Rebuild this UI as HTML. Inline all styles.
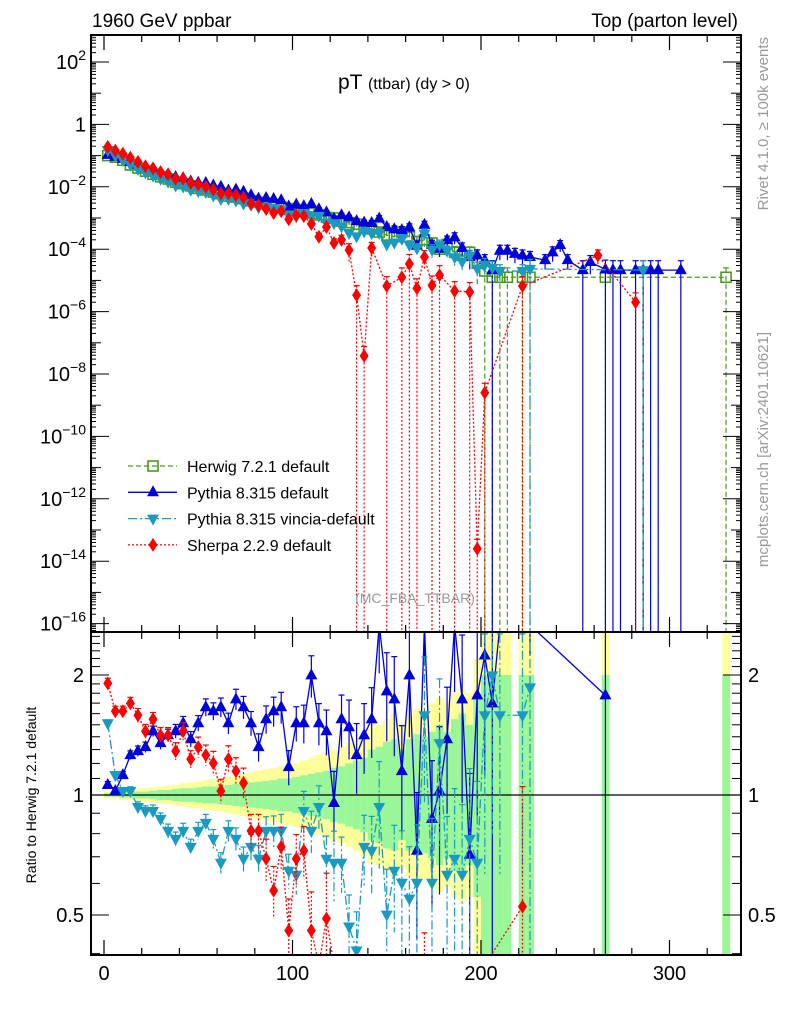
<!DOCTYPE html>
<html><head><meta charset="utf-8"><style>
html,body{margin:0;padding:0;width:786px;height:1024px;overflow:hidden;background:#fff}
svg{display:block;font-family:"Liberation Sans",sans-serif}
</style></head><body>
<svg id="c" width="786" height="1024" viewBox="0 0 786 1024">
<defs>
<clipPath id="cm"><rect x="91" y="35" width="650" height="597"/></clipPath>
<clipPath id="cr"><rect x="91" y="632" width="650" height="323"/></clipPath>
</defs>
<rect x="0" y="0" width="786" height="1024" fill="#fff"/>
<g id="band" clip-path="url(#cr)"></g>
<g id="main" clip-path="url(#cm)"></g>
<g id="ratio" clip-path="url(#cr)"></g>
<g id="axes"></g>
<text x="92" y="27" font-size="19">1960 GeV ppbar</text>
<text x="738" y="27" font-size="19" text-anchor="end">Top (parton level)</text>
<text x="338" y="89" font-size="21">pT <tspan font-size="16">(ttbar) (dy &gt; 0)</tspan></text>
<text x="415" y="603" font-size="14" fill="#999" text-anchor="middle">(MC_FBA_TTBAR)</text>
<text transform="rotate(-90,768,37)" x="768" y="37" font-size="15" fill="#999" text-anchor="end">Rivet 4.1.0, ≥ 100k events</text>
<text transform="rotate(-90,768,332)" x="768" y="332" font-size="15" fill="#999" text-anchor="end">mcplots.cern.ch [arXiv:2401.10621]</text>
<text transform="rotate(-90,36,795)" x="36" y="795" font-size="14" text-anchor="middle">Ratio to Herwig 7.2.1 default</text>
<g id="legend"></g>
</svg>
<script>
const binCenters=[2,6,10,14,18,22,26,30,34,38,42,46,50,54,58,62,66,70,74,78,82,86,90,94,98,102,106,110,114,118,122,126,130,134,138,142,146,150,154,158,162,166,170,174,178,182,186,190,194,198,202,206,210,214,218,222,226,230,234,238,242,246,250,254,258,262,266,270,274,278,282,286,290,294,298,302,306,310,314,318,322,326,330,334];
const N=null;
const herwigLog=[-1.0,-1.05,-1.15,-1.3,-1.4,-1.5,-1.6,-1.68,-1.75,-1.85,-1.9,-1.97,-2.05,-2.1,-2.17,-2.22,-2.3,-2.33,-2.38,-2.45,-2.5,-2.55,-2.6,-2.65,-2.7,-2.75,-2.8,-2.85,-2.9,-2.98,-3.0,-3.1,-3.15,-3.2,-3.3,-3.35,-3.45,-3.55,-3.6,-3.45,-3.6,-3.75,-3.7,-3.8,-4.0,-3.85,-4.1,-4.2,-4.1,-4.45,-4.7,-4.9,-4.9,-4.9,N,-4.9,-4.9,N,N,N,N,N,N,N,N,N,-4.9,N,N,N,N,N,N,N,N,N,N,N,N,N,N,N,-4.9,N];
const pythiaLog=[-0.975,-1.04,-1.10,-1.20,-1.29,-1.38,-1.44,-1.55,-1.60,-1.69,-1.72,-1.83,-1.87,-1.88,-1.96,-2.00,-2.12,-2.09,-2.16,-2.27,-2.38,-2.36,-2.39,-2.43,-2.63,-2.57,-2.62,-2.55,-2.72,-2.82,-3.02,-2.91,-2.98,-3.10,-3.15,-3.16,-3.02,-3.29,-3.36,-3.39,-3.30,-3.89,-3.22,-3.86,-3.99,-3.71,-3.62,-3.96,-4.25,-4.20,-4.35,-4.67,-4.05,-4.05,-4.15,-4.2,-4.25,N,-4.35,-4.1,-3.87,-4.35,N,-4.67,-4.41,N,-4.65,-4.67,-4.67,N,-4.67,-4.67,-4.67,-4.67,N,N,-4.67,N,N,N,N,N,N,N];
const vinciaLog=[-0.82,-1.0,-1.14,-1.29,-1.43,-1.54,-1.64,-1.74,-1.84,-1.96,-1.99,-2.10,-2.14,-2.17,-2.28,-2.39,-2.39,-2.44,-2.54,-2.58,-2.66,-2.64,-2.69,-2.74,-2.89,-2.95,-2.84,-2.94,-2.93,-3.14,-3.17,-3.27,-3.48,-3.59,-3.43,-3.49,-3.48,-3.85,-3.79,-3.67,-3.86,-3.97,-3.5,-4.02,-3.87,-4.05,-4.26,-4.40,-4.21,-4.62,-4.5,-4.6,-4.7,N,N,-4.7,-4.63,N,N,N,N,N,N,N,N,N,N,N,N,N,N,-4.67,N,N,N,N,N,N,N,N,N,N,N,N];
const sherpaLog=[-0.72,-0.84,-0.94,-1.07,-1.20,-1.34,-1.41,-1.53,-1.60,-1.74,-1.74,-1.88,-1.93,-2.0,-2.09,-2.21,-2.21,-2.27,-2.35,-2.54,-2.59,-2.71,-2.84,-2.78,-3.04,-2.91,-2.94,-3.19,-3.6,-3.29,-3.8,-3.7,-4.03,-5.47,-7.42,-3.96,N,-5.18,N,-4.9,-4.47,-5.25,-4.25,-5.16,-4.83,N,-5.34,N,-5.37,-13.6,-8.6,N,N,N,N,-5.18,N,N,N,N,N,N,N,N,N,-4.2,N,N,N,N,-5.7,N,N,N,N,N,N,N,N,N,N,N,N,N];
const herwigStatErr=[.01,.01,.015,.015,.02,.02,.025,.03,.03,.035,.04,.04,.045,.05,.05,.055,.06,.065,.07,.075,.08,.085,.09,.1,.1,.11,.12,.13,.14,.15,.17,.18,.2,.22,.24,.3,.32,.36,.38,.3,.38,.42,.4,.44,.5,.44,.55,.6,.5,.8,1,1,1,1,0,1,1,0,0,0,0,0,0,0,0,0,1,0,0,0,0,0,0,0,0,0,0,0,0,0,0,0,1,0];
const herwigTotErr=[.02,.02,.03,.03,.035,.04,.045,.05,.055,.06,.07,.075,.08,.09,.095,.1,.11,.12,.13,.14,.15,.16,.17,.18,.19,.2,.22,.24,.26,.28,.3,.32,.35,.38,.42,.48,.5,.55,.6,.52,.6,.65,.62,.7,.75,.7,.8,.85,.8,1.2,2,2,2,2,0,2,2,0,0,0,0,0,0,0,0,0,2,0,0,0,0,0,0,0,0,0,0,0,0,0,0,0,2,0];
const pythiaErr=[.02,.02,.02,.025,.03,.03,.03,.035,.035,.04,.04,.045,.045,.05,.05,.055,.06,.06,.065,.07,.08,.08,.085,.09,.1,.1,.11,.12,.12,.13,.2,.15,.17,.2,.2,.2,.25,.25,.28,.3,.3,.4,.3,.4,.45,.35,.4,.45,.6,.5,.5,1,.5,.5,.5,.5,.5,0,.5,.5,.4,.5,0,1,.6,0,1,1,1,0,1,1,1,1,0,0,1,0,0,0,0,0,0,0];
const vinciaErr=[.02,.02,.02,.025,.03,.03,.035,.035,.04,.04,.045,.045,.05,.05,.055,.06,.06,.065,.07,.075,.08,.085,.09,.1,.1,.11,.12,.12,.13,.14,.2,.16,.2,.25,.2,.22,.3,.3,.3,.35,.35,.4,.4,.45,.45,.4,.5,.5,.5,.6,.6,.6,.6,0,0,.6,1,0,0,0,0,0,0,0,0,0,0,0,0,0,0,1,0,0,0,0,0,0,0,0,0,0,0,0];
const sherpaErr=[.03,.03,.03,.035,.04,.04,.04,.045,.045,.05,.05,.05,.06,.06,.07,.07,.08,.08,.09,.1,.1,.12,.15,.12,.2,.15,.15,.25,.3,.3,.35,.4,.6,1,1,.5,0,1,0,1,1,1,.6,1,1,0,1,0,1,1,1,0,0,0,0,1,0,0,0,0,0,0,0,0,0,.5,0,0,0,0,1,0,0,0,0,0,0,0,0,0,0,0,0,0];
const xTicks=[0,100,200,300];
const mainTickDecades=[2,0,-2,-4,-6,-8,-10,-12,-14,-16];
const ratioTicks=[0.5,1,2];
const legendLabels=["Herwig 7.2.1 default","Pythia 8.315 default","Pythia 8.315 vincia-default","Sherpa 2.2.9 default"];

const NS="http://www.w3.org/2000/svg";
const X=v=>104+v*1.885;
const YM=lg=>62+(2-lg)*31.2;
const YR=r=>795-120*Math.log2(r);
const BOT_M=640, BOT_R=965, TOP_R=625;
function mk(tag,attrs,parent){const e=document.createElementNS(NS,tag);for(const k in attrs)e.setAttribute(k,attrs[k]);parent.appendChild(e);return e;}
const gMain=document.getElementById('main'),gRatio=document.getElementById('ratio'),gBand=document.getElementById('band'),gAx=document.getElementById('axes'),gLeg=document.getElementById('legend');

const series=[
 {name:'herwig',vals:herwigLog,err:herwigStatErr,color:'#4a9a1a',dash:'5,3',marker:'square'},
 {name:'pythia',vals:pythiaLog,err:pythiaErr,color:'#0000dd',dash:'',marker:'up'},
 {name:'vincia',vals:vinciaLog,err:vinciaErr,color:'#1a9ac0',dash:'9,3,2,3',marker:'down'},
 {name:'sherpa',vals:sherpaLog,err:sherpaErr,color:'#ff0000',dash:'2,2',marker:'diamond'}
];
function marker(g,type,x,y,c){
 let e;
 if(type==='square'){e=mk('rect',{x:x-5,y:y-5,width:10,height:10,fill:'#fff','fill-opacity':0,stroke:c,'stroke-width':1.6},g);}
 else if(type==='up'){e=mk('polygon',{points:`${x},${y-7} ${x-6},${y+4} ${x+6},${y+4}`,fill:c},g);}
 else if(type==='down'){e=mk('polygon',{points:`${x},${y+7} ${x-6},${y-4} ${x+6},${y-4}`,fill:c},g);}
 else {e=mk('polygon',{points:`${x},${y-7} ${x-4.5},${y} ${x},${y+7} ${x+4.5},${y}`,fill:c},g);}
 return e;
}
binCenters.forEach((xc,i)=>{
 if(herwigLog[i]===null)return;
 [[herwigTotErr[i],'#ffff99','band-total'],[herwigStatErr[i],'#99f799','band-stat']].forEach(([e,col,nm])=>{
  if(!e)return;
  const up=YR(1+e), lo=e>=1?BOT_R:YR(1/(1+e));
  const r=mk('rect',{x:X(xc-2),y:up,width:X(xc+2)-X(xc-2)+0.3,height:lo-up,fill:col},gBand);
  
  
 });
});
mk('line',{x1:91,x2:741,y1:YR(1),y2:YR(1),stroke:'#000','stroke-width':1.2},gRatio);

series.forEach(s=>{
 const gm=mk('g',{},gMain);
 
 
 const gr=mk('g',{},gRatio);
 
 
 let pm=[],pr=[];
 binCenters.forEach((xc,i)=>{
  const v=s.vals[i]; if(v===null)return;
  const x=X(xc), y=YM(v), e=s.err[i];
  pm.push([x,y]);
  const yu=YM(v+Math.log10(1+e)), yl=e>=1?BOT_M:YM(v+Math.log10(1-e));
  mk('line',{x1:x,x2:x,y1:yu,y2:yl,stroke:s.color,'stroke-width':1.2,'stroke-dasharray':s.dash},gm);
  mk('line',{x1:x-3,x2:x+3,y1:yu,y2:yu,stroke:s.color,'stroke-width':1.2},gm);
  const h=herwigLog[i];
  if(h!==null){
   const r=Math.pow(10,v-h);
   const ry=Math.max(TOP_R,Math.min(BOT_R,YR(r)));
   pr.push([x,ry]);
   if(s.name!=='herwig'){
    const ru=Math.max(TOP_R,YR(r*(1+e))), rl=e>=1?BOT_R:Math.min(BOT_R,YR(r*(1-e)));
    mk('line',{x1:x,x2:x,y1:ru,y2:rl,stroke:s.color,'stroke-width':1.2,'stroke-dasharray':s.dash},gr);
    mk('line',{x1:x-3,x2:x+3,y1:ru,y2:ru,stroke:s.color,'stroke-width':1.2},gr);
   }
  }
 });
 const lm=mk('polyline',{points:pm.map(p=>p.join(',')).join(' '),fill:'none',stroke:s.color,'stroke-width':1.3,'stroke-dasharray':s.dash},gm);
 
 
 if(s.name!=='herwig'){
  const lr=mk('polyline',{points:pr.map(p=>p.join(',')).join(' '),fill:'none',stroke:s.color,'stroke-width':1.3,'stroke-dasharray':s.dash},gr);
  
  
 }
 binCenters.forEach((xc,i)=>{
  const v=s.vals[i]; if(v===null)return;
  const m=marker(gm,s.marker,X(xc),YM(v),s.color);
  
  
  const h=herwigLog[i];
  if(h!==null&&s.name!=='herwig'){
   const rm=marker(gr,s.marker,X(xc),YR(Math.pow(10,v-h)),s.color);
   
   
  }
 });
});

[[35,632],[632,955]].forEach(([t,b])=>{
 const r=mk('rect',{x:91,y:t,width:650,height:b-t,fill:'none',stroke:'#000','stroke-width':2},gAx);
 
 
});
for(let v=0;v<=330;v+=20){
 const x=X(v), major=v%100===0, len=major?15:7;
 [[35,1],[632,-1],[632,1],[955,-1]].forEach(([y,d])=>mk('line',{x1:x,x2:x,y1:y,y2:y+d*len,stroke:'#000','stroke-width':1.2},gAx));
}
xTicks.forEach(v=>{const t=mk('text',{x:X(v),y:980,'font-size':20,'text-anchor':'middle'},gAx);t.textContent=v;
 });
for(let d=-17;d<=2;d++){
 for(let m=1;m<10;m++){
  const y=YM(d+Math.log10(m)); if(y<35||y>632)continue;
  const len=m===1?(d%2===0?18:10):5;
  mk('line',{x1:91,x2:91+len,y1:y,y2:y,stroke:'#000','stroke-width':1},gAx);
  mk('line',{x1:741,x2:741-len,y1:y,y2:y,stroke:'#000','stroke-width':1},gAx);
 }
}
mainTickDecades.forEach(d=>{
 const t=mk('text',{x:86,y:YM(d)+7,'font-size':20,'text-anchor':'end'},gAx);
 
 if(d===0){t.textContent='1';}
 else{t.textContent='10';const s=mk('tspan',{'font-size':14,dy:-9},t);s.textContent=String(d).replace('-','−');}
});
[0.4,0.5,0.6,0.7,0.8,0.9,1,1.1,1.2,1.3,1.4,1.5,1.6,1.7,1.8,1.9,2,2.1,2.2,2.3,2.4,2.5].forEach(r=>{
 const y=YR(r); if(y<632||y>955)return;
 const len=ratioTicks.includes(r)?18:9;
 mk('line',{x1:91,x2:91+len,y1:y,y2:y,stroke:'#000','stroke-width':1},gAx);
 mk('line',{x1:741,x2:741-len,y1:y,y2:y,stroke:'#000','stroke-width':1},gAx);
});
ratioTicks.forEach(r=>{
 const a=mk('text',{x:84,y:YR(r)+7,'font-size':20,'text-anchor':'end'},gAx);a.textContent=r;
 
 const b=mk('text',{x:748,y:YR(r)+7,'font-size':20},gAx);b.textContent=r;
 
});
legendLabels.forEach((lab,i)=>{
 const s=series[i], y=466+i*26.3;
 const g=mk('g',{},gLeg);
 
 
 mk('line',{x1:128,x2:177,y1:y,y2:y,stroke:s.color,'stroke-width':1.3,'stroke-dasharray':s.dash},g);
 marker(g,s.marker,153,y,s.color);
 const t=mk('text',{x:187,y:y+6,'font-size':16},g);t.textContent=lab;
});
</script>
</body></html>
